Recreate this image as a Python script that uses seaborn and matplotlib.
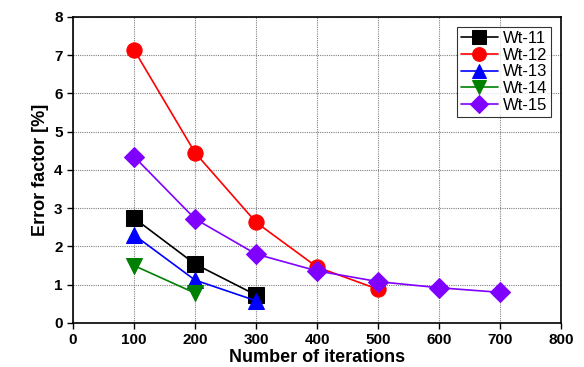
import matplotlib
matplotlib.use("Agg")
import matplotlib.pyplot as plt
import seaborn as sns
import pandas as pd

sns.set_theme(style="white")
plt.rcParams['font.family'] = ['Liberation Sans', 'DejaVu Sans']
plt.rcParams['text.color'] = 'black'
plt.rcParams['axes.labelcolor'] = 'black'
plt.rcParams['xtick.color'] = 'black'
plt.rcParams['ytick.color'] = 'black'

x11 = [100, 200, 300]
y11 = [2.74, 1.54, 0.73]
x12 = [100, 200, 300, 400, 500]
y12 = [7.14, 4.45, 2.63, 1.46, 0.88]
x13 = [100, 200, 300]
y13 = [2.30, 1.12, 0.58]
x14 = [100, 200]
y14 = [1.50, 0.78]
x15 = [100, 200, 300, 400, 500, 600, 700]
y15 = [4.35, 2.72, 1.80, 1.36, 1.08, 0.92, 0.80]

series = [
    ("Wt-11", x11, y11, "black", "s"),
    ("Wt-12", x12, y12, "red", "o"),
    ("Wt-13", x13, y13, "blue", "^"),
    ("Wt-14", x14, y14, "green", "v"),
    ("Wt-15", x15, y15, "#8000ff", "D"),
]

fig = plt.figure(figsize=(5.84, 3.67), dpi=100)
ax = fig.add_axes([0.125, 0.12, 0.836, 0.834])

for name, xs, ys, c, m in series:
    df = pd.DataFrame({"x": xs, "y": ys})
    sns.lineplot(data=df, x="x", y="y", ax=ax, color=c, marker=m, markersize=11 if m != "D" else 10,
                 markeredgecolor=c, linewidth=1.2, label=name)

ax.set_xlim(0, 800)
ax.set_ylim(0, 8)
ax.set_xticks(range(0, 801, 100))
ax.set_yticks(range(0, 9))
ax.grid(True, linestyle=(0, (1, 1)), color="gray", linewidth=0.8)
for s in ax.spines.values():
    s.set_color("black")
    s.set_linewidth(1.2)
ax.tick_params(axis="both", which="both", direction="out", length=4, width=1, color="black",
               labelcolor="black", labelsize=11, bottom=True, left=True)
for lab in ax.get_xticklabels() + ax.get_yticklabels():
    lab.set_fontweight("bold")
ax.set_xlabel("Number of iterations", fontsize=13, fontweight="bold", labelpad=1, color="black")
ax.set_ylabel("Error factor [%]", fontsize=13, fontweight="bold", labelpad=4, color="black")

leg = ax.legend(loc="upper right", fontsize=12, frameon=True, fancybox=False, borderpad=0.25,
                labelspacing=0.1, handlelength=2.2, handletextpad=0.3, borderaxespad=0.6,
                markerscale=0.9)
leg.get_frame().set_edgecolor("black")
leg.get_frame().set_linewidth(0.8)
for t in leg.get_texts():
    t.set_color("black")

fig.savefig("out.png", dpi=100)
